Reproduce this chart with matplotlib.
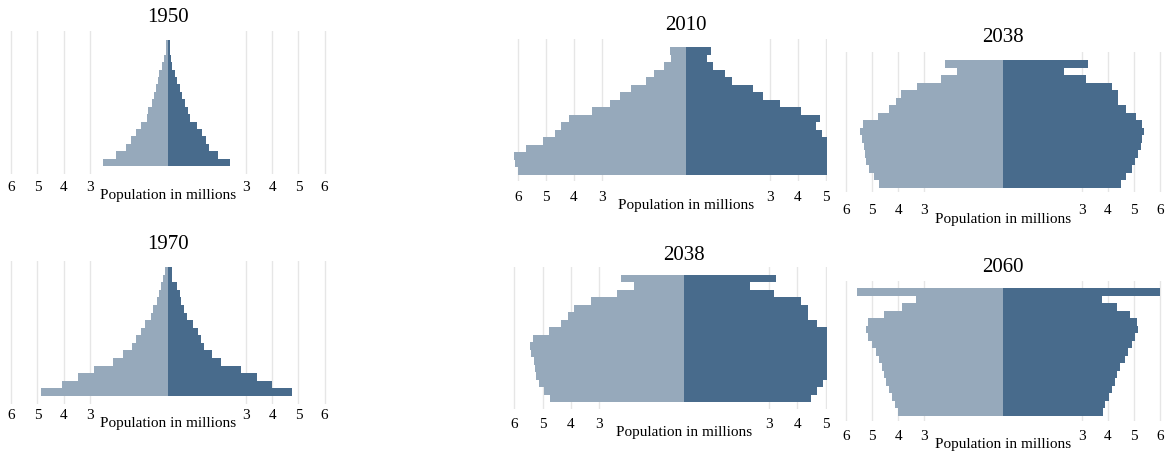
import matplotlib
matplotlib.use("Agg")
import matplotlib.pyplot as plt
import numpy as np

plt.rcParams['font.family'] = ['Liberation Serif', 'DejaVu Serif']

LIGHT = "#96a9bb"
DARK = "#486b8c"

# values listed from youngest (bottom) to oldest (top), millions
left_1950 = [2.48, 2.01, 1.62, 1.42, 1.23, 1.03, 0.82, 0.76, 0.63, 0.55, 0.47, 0.40, 0.34, 0.22, 0.14, 0.09, 0.09]
right_1950 = [2.37, 1.91, 1.57, 1.47, 1.30, 1.11, 0.83, 0.77, 0.64, 0.55, 0.45, 0.35, 0.26, 0.15, 0.13, 0.06, 0.09]
left_1970 = [4.87, 4.05, 3.46, 2.82, 2.11, 1.73, 1.39, 1.23, 1.05, 0.89, 0.66, 0.57, 0.44, 0.34, 0.25, 0.19, 0.11]
right_1970 = [4.76, 4.00, 3.41, 2.81, 2.04, 1.70, 1.37, 1.28, 1.15, 0.96, 0.73, 0.60, 0.51, 0.45, 0.35, 0.17, 0.14]
left_2010 = [5.99, 6.12, 6.17, 5.73, 5.09, 4.68, 4.47, 4.19, 3.35, 2.73, 2.34, 1.97, 1.44, 1.14, 0.80, 0.54, 0.56]
right_2010 = [5.3, 5.5, 5.6, 5.4, 5.1, 4.84, 4.65, 4.80, 4.09, 3.35, 2.74, 2.39, 1.66, 1.40, 0.95, 0.74, 0.88]
left_2038 = [4.74, 4.93, 5.12, 5.22, 5.26, 5.31, 5.40, 5.45, 5.34, 4.78, 4.34, 4.10, 3.90, 3.28, 2.38, 1.76, 2.21]
right_2038 = [4.50, 4.71, 4.91, 5.04, 5.17, 5.25, 5.32, 5.38, 5.32, 5.06, 4.71, 4.38, 4.38, 4.15, 3.18, 2.34, 3.26]
left_2060 = [4.00, 4.13, 4.24, 4.35, 4.45, 4.53, 4.63, 4.73, 4.86, 4.99, 5.14, 5.21, 5.14, 4.56, 3.86, 3.32, 5.56]
right_2060 = [3.81, 3.90, 4.03, 4.15, 4.26, 4.37, 4.47, 4.64, 4.77, 4.92, 5.04, 5.17, 5.13, 4.85, 4.34, 3.77, 6.00]

tick_vals = [-6, -5, -4, -3, 3, 4, 5, 6]
tick_labels = ["6", "5", "4", "3", "3", "4", "5", "6"]

W, H = 1166, 452
fig = plt.figure(figsize=(W / 100, H / 100), dpi=100)


def panel(title, left, right, center, ppu, xmax, grid_top, grid_bot, bar_top, bar_bot, title_y, tick_y):
    xmin = -6.15
    x0 = center + xmin * ppu
    x1 = center + xmax * ppu
    ax = fig.add_axes([x0 / W, 1 - grid_bot / H, (x1 - x0) / W, (grid_bot - grid_top) / H])
    n = len(left)
    y = np.arange(n)
    ax.barh(y, [-v for v in left], height=1.0, color=LIGHT, linewidth=0, zorder=2)
    ax.barh(y, right, height=1.0, color=DARK, linewidth=0, zorder=2)
    ax.set_yticks([])
    ax.set_xticks(tick_vals)
    ax.set_xticklabels([])
    bppu = (bar_bot - bar_top) / n
    ax.set_ylim(-0.5 - (grid_bot - bar_bot) / bppu, n - 0.5 + (bar_top - grid_top) / bppu)
    ax.set_xlim(xmin, xmax)
    ax.grid(axis='x', color='#e6e6e6', linewidth=1, zorder=0)
    ax.tick_params(length=0)
    for s in ax.spines.values():
        s.set_visible(False)
    for v, lab in zip(tick_vals, tick_labels):
        if xmin - 0.01 <= v <= xmax + 0.05:
            fig.text((center + v * ppu) / W, 1 - tick_y / H, lab, ha='center', va='center', fontsize=11)
    fig.text(center / W, 1 - (tick_y + 8) / H, "Population in millions", ha='center', va='center',
             fontsize=11, family=['Liberation Sans Narrow', 'Liberation Serif'])
    fig.text(center / W, 1 - title_y / H, title, ha='center', va='center', fontsize=15)


panel("1950", left_1950, right_1950, 168, 26.1, 6.15, 32, 175, 41, 167, 18, 188)
panel("1970", left_1970, right_1970, 168, 26.1, 6.15, 262, 405, 268, 397, 245, 416)
panel("2010", left_2010, right_2010, 686, 28.0, 5.05, 40, 182, 48, 176, 25, 198)
panel("2038", left_2038, right_2038, 1003, 26.2, 6.15, 53, 193, 61, 189, 38, 211)
panel("2038", left_2038, right_2038, 684, 28.3, 5.05, 268, 410, 276, 403, 255, 425)
panel("2060", left_2060, right_2060, 1003, 26.2, 6.15, 282, 422, 289, 417, 268, 437)

fig.savefig("out.png", dpi=100)
